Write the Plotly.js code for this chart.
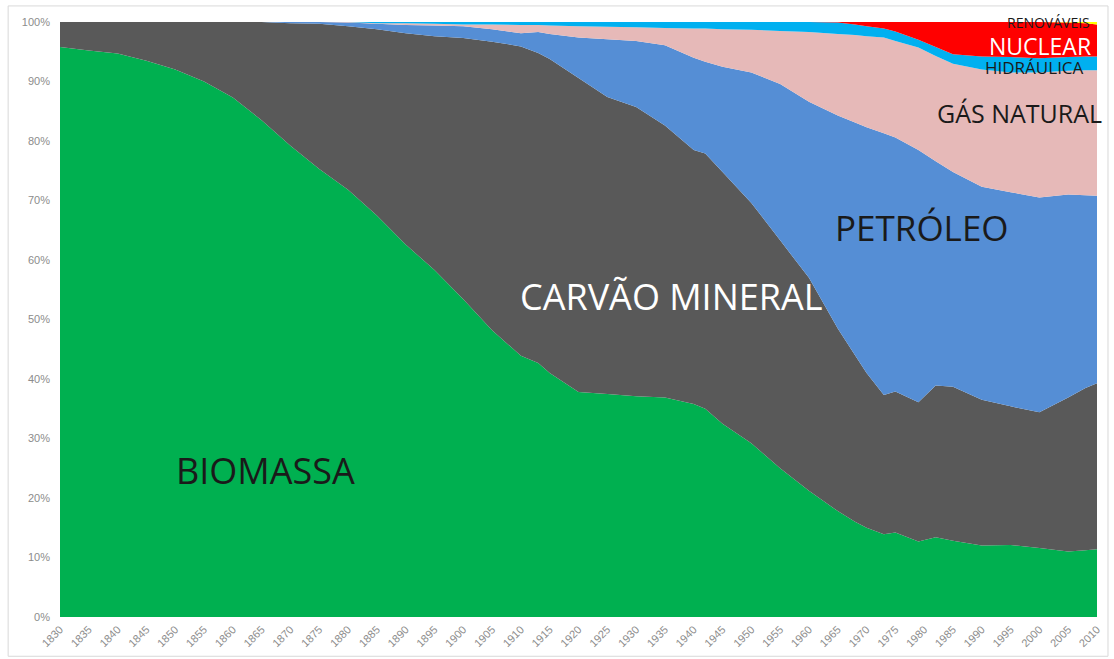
<!DOCTYPE html>
<html>
<head>
<meta charset="utf-8">
<script src="https://cdn.plot.ly/plotly-3.0.1.min.js"></script>
<style>
  html, body { margin: 0; padding: 0; background: #fff; }
  #chart { width: 1114px; height: 659px; }
</style>
</head>
<body>
<div id="chart"></div>
<script>
// anos (passo irregular para captar as oscilações dos anos 70/80)
const anos = [1830,1835,1840,1845,1850,1855,1860,1865,1870,1875,1880,1885,1890,1895,1900,1905,1910,1913,1915,1920,1925,1930,1935,1940,1942,1945,1950,1955,1960,1965,1968,1970,1973,1975,1979,1982,1985,1990,1995,2000,2005,2008,2010];

// participação de cada fonte (%)
const biomassa = [95.8,95.2,94.7,93.5,92.0,90.0,87.3,83.5,79.2,75.3,71.8,67.5,62.6,58.3,53.4,48.2,43.9,42.7,41.0,37.8,37.5,37.1,36.9,35.8,35.0,32.5,29.2,25.0,21.2,17.8,16.0,15.0,13.9,14.2,12.7,13.4,12.8,12.0,12.1,11.6,11.0,11.2,11.4];
const carvao = [4.2,4.8,5.3,6.5,8.0,10.0,12.7,16.5,20.6,24.4,27.5,31.3,35.5,39.3,43.9,48.5,52.0,52.1,52.8,52.8,49.9,48.6,45.7,42.7,42.9,42.3,40.4,38.3,35.8,30.7,28.0,26.0,23.4,23.7,23.4,25.5,25.9,24.5,23.3,22.8,25.9,27.3,27.9];
const petroleo = [0,0,0,0,0,0,0,0,0.2,0.3,0.6,0.9,1.4,1.8,2.0,2.1,2.2,3.5,4.2,6.8,9.7,11.1,13.5,15.5,15.4,17.7,21.9,26.3,29.6,35.8,39.1,41.3,44.0,42.7,42.4,37.7,36.1,35.8,36.0,36.1,34.1,32.4,31.5];
const gas = [0,0,0,0,0,0,0,0,0,0,0.1,0.1,0.3,0.3,0.3,0.8,1.4,1.2,1.4,1.9,2.1,2.3,2.9,4.9,5.6,6.3,7.2,8.9,11.7,13.7,14.7,15.3,16.1,16.2,17.2,17.7,18.2,19.7,20.1,21.0,20.8,21.0,21.1];
const hidraulica = [0,0,0,0,0,0,0,0,0,0,0,0.2,0.2,0.3,0.4,0.4,0.5,0.5,0.6,0.7,0.8,0.9,1.0,1.1,1.1,1.2,1.3,1.5,1.7,1.9,1.8,1.7,1.5,1.6,1.3,1.5,1.6,2.2,2.6,2.4,2.3,2.3,2.3];
const nuclear = [0,0,0,0,0,0,0,0,0,0,0,0,0,0,0,0,0,0,0,0,0,0,0,0,0,0,0,0,0,0.1,0.4,0.7,1.1,1.6,3.0,4.2,5.4,5.8,5.9,6.1,5.8,5.6,5.4];
const renovaveis = [0,0,0,0,0,0,0,0,0,0,0,0,0,0,0,0,0,0,0,0,0,0,0,0,0,0,0,0,0,0,0,0,0,0,0,0,0,0,0,0,0.1,0.2,0.4];

const tickAnos = [];
for (let a = 1830; a <= 2010; a += 5) tickAnos.push(a);

function camada(nome, y, cor) {
  return {
    x: anos, y: y, name: nome,
    type: "scatter", mode: "none",
    stackgroup: "um", fillcolor: cor,
    hoverinfo: "skip"
  };
}

const data = [
  camada("Biomassa", biomassa, "#00B050"),
  camada("Carvão mineral", carvao, "#595959"),
  camada("Petróleo", petroleo, "#558ED5"),
  camada("Gás natural", gas, "#E6B9B8"),
  camada("Hidráulica", hidraulica, "#00B0F0"),
  camada("Nuclear", nuclear, "#FF0000"),
  camada("Renováveis", renovaveis, "#FFFF00")
];

const fonteRotulo = "Open Sans, sans-serif";
function rotulo(texto, x, y, tam, cor) {
  return {
    text: texto, x: x, y: y, xref: "x", yref: "y",
    showarrow: false, xanchor: "center", yanchor: "middle",
    font: {family: fonteRotulo, size: tam, color: cor}
  };
}

const fonteEixo = {family: "Liberation Sans, sans-serif", size: 11, color: "#8c8c8c"};

// rótulo das renováveis fica em cima da borda do gráfico -> yref paper
const rotuloRenov = rotulo("RENOVÁVEIS", 2001.5, 0.999, 14, "#1a1a1a");
rotuloRenov.yref = "paper";

const layout = {
  width: 1114, height: 659,
  margin: {l: 60, r: 17, t: 22, b: 42},
  paper_bgcolor: "#fff", plot_bgcolor: "#fff",
  showlegend: false,
  xaxis: {
    range: [1830, 2010], tickvals: tickAnos, tickangle: -45,
    showgrid: false, zeroline: false, showline: false, ticks: "",
    ticklabelstandoff: 3,
    tickfont: fonteEixo
  },
  yaxis: {
    range: [0, 100], dtick: 10, ticksuffix: "%",
    showgrid: false, zeroline: false, showline: false, ticks: "",
    ticklabelstandoff: 9,
    tickfont: fonteEixo
  },
  annotations: [
    rotulo("BIOMASSA", 1865.6, 24.7, 36, "#1a1a1a"),
    rotulo("CARVÃO MINERAL", 1936.2, 53.8, 36, "#ffffff"),
    rotulo("PETRÓLEO", 1979.6, 65.4, 35, "#1a1a1a"),
    rotulo("GÁS NATURAL", 1996.5, 84.7, 25, "#1a1a1a"),
    rotulo("HIDRÁULICA", 1999.2, 92.3, 17, "#1a1a1a"),
    rotulo("NUCLEAR", 2000.1, 96.0, 23, "#ffffff"),
    rotuloRenov
  ],
  shapes: [{
    type: "rect", xref: "paper", yref: "paper",
    x0: -0.050, x1: 1.0106, y0: -0.066, y1: 1.027,
    line: {color: "#d9d9d9", width: 1}
  }]
};

Plotly.newPlot("chart", data, layout, {displayModeBar: false, staticPlot: true});
</script>
</body>
</html>
